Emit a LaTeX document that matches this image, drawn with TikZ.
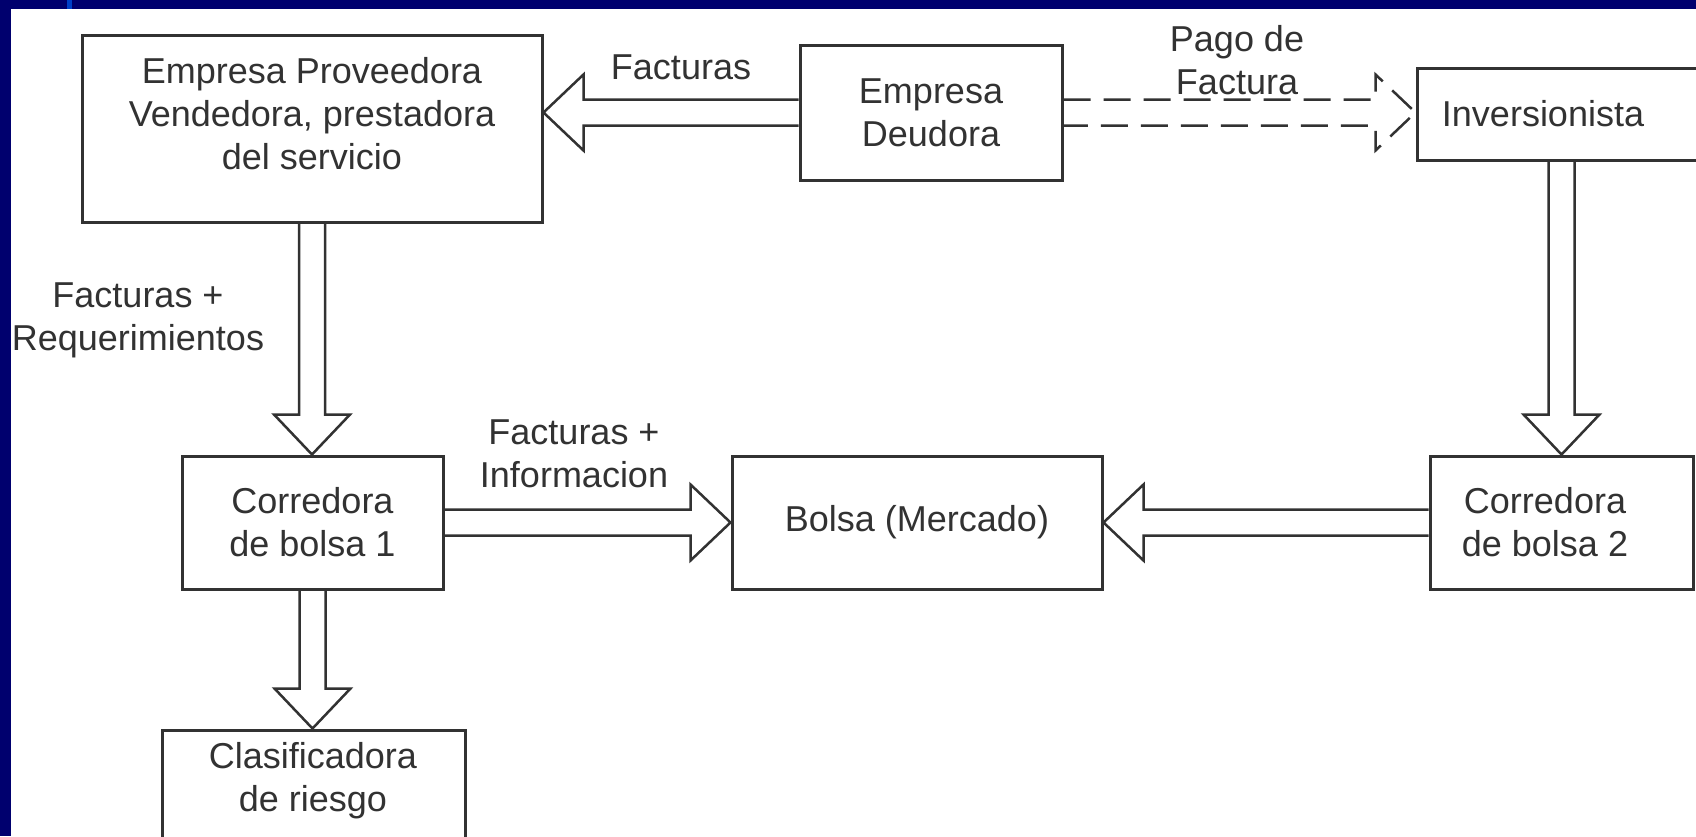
\documentclass[tikz,border=0pt]{standalone}
\usepackage{fontspec}
\setmainfont{Liberation Sans}
\usetikzlibrary{calc}
\definecolor{frameblue}{RGB}{0,0,110}
\definecolor{stripeblue}{RGB}{0,64,200}
\definecolor{ink}{RGB}{50,50,50}
\tikzset{
  box/.style={draw=ink, line width=3pt, rectangle, align=center, text=ink},
  lbl/.style={align=center, text=ink},
  blockarrow/.style={draw=ink, line width=2.5pt, line join=miter,
    to path={
      ($(\tikztostart)!13pt!90:(\tikztotarget)$) --
      ($(\tikztotarget)!40pt!(\tikztostart)!13pt!90:(\tikztotarget)$) --
      ($(\tikztotarget)!40pt!(\tikztostart)!38pt!90:(\tikztotarget)$) --
      (\tikztotarget) --
      ($(\tikztotarget)!40pt!(\tikztostart)!38pt!-90:(\tikztotarget)$) --
      ($(\tikztotarget)!40pt!(\tikztostart)!13pt!-90:(\tikztotarget)$) --
      ($(\tikztostart)!13pt!-90:(\tikztotarget)$)}},
  dasharrow/.style={blockarrow, dash pattern=on 27pt off 13pt}
}
\begin{document}
\begin{tikzpicture}[x=1pt,y=-1pt,font=\fontsize{36}{43}\selectfont]
\useasboundingbox (0,0) rectangle (1696,836);
\fill[white] (0,0) rectangle (1696,836);
\fill[frameblue] (0,0) rectangle (1696,9);
\fill[frameblue] (0,0) rectangle (11,836);
\fill[stripeblue] (67,0) rectangle (72,9);
% boxes
\node[box, minimum width=460pt, minimum height=187pt] (proveedora) at (312,128.5) {};
\node[lbl] (proveedoraText) at (312,114) {Empresa Proveedora\\Vendedora, prestadora\\del servicio};
\node[box, minimum width=262pt, minimum height=135pt] (deudora) at (931,112.5) {Empresa\\Deudora};
\node[box, minimum width=323pt, minimum height=92pt] (inversionista) at (1578.5,114) {};
\node[lbl] (inversionistaText) at (1543,114) {Inversionista};
\node[box, minimum width=261pt, minimum height=133pt] (corredoraA) at (312.5,522.5) {Corredora\\de bolsa 1};
\node[box, minimum width=370pt, minimum height=133pt] (bolsa) at (917,522.5) {Bolsa (Mercado)};
\node[box, minimum width=263pt, minimum height=133pt] (corredoraB) at (1561.5,522.5) {};
\node[lbl] (corredoraBText) at (1545,522.5) {Corredora\\de bolsa 2};
\node[box, minimum width=303pt, minimum height=115pt] (clasificadora) at (313.5,787.5) {};
\node[lbl] (clasificadoraText) at (313,781) {Clasificadora\\de riesgo};
% arrows
\draw[blockarrow] (deudora.west) to (proveedora.east |- deudora.west);
\draw[dasharrow] (deudora.east) to (inversionista.west |- deudora.east);
\draw[blockarrow] (proveedora.south) to (proveedora.south |- corredoraA.north);
\draw[blockarrow] (inversionista.south -| corredoraB.north) to (corredoraB.north);
\draw[blockarrow] (corredoraA.east) to (bolsa.west);
\draw[blockarrow] (corredoraB.west) to (bolsa.east);
\draw[blockarrow] (corredoraA.south) to (corredoraA.south |- clasificadora.north);
% labels
\node[lbl] (facturasTop) at (681,67) {Facturas};
\node[lbl] (pagoFactura) at (1237,60) {Pago de\\Factura};
\node[lbl] (facturasReq) at (138,320) {Facturas +\\Requerimientos};
\node[lbl] (facturasInfo) at (574,454) {Facturas +\\Informacion};
\end{tikzpicture}
\end{document}
